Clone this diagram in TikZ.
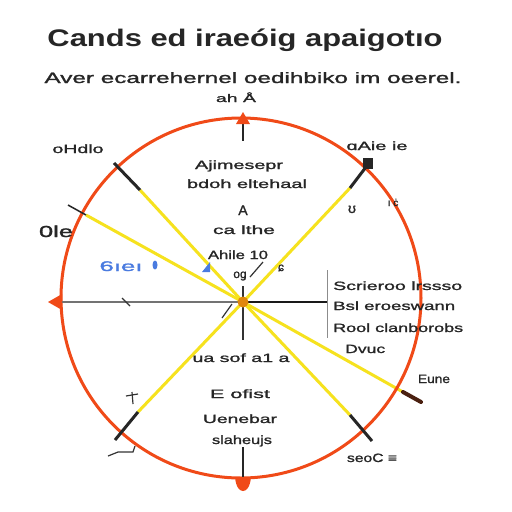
\documentclass[tikz,border=0pt]{standalone}
\usepackage{fontspec}
\usepackage{graphicx}
\setmainfont{Liberation Sans}
\newfontfamily\medfont[FakeBold=1.2]{Liberation Sans}
\definecolor{ringred}{HTML}{F04A18}
\definecolor{raycol}{HTML}{F6E21E}
\definecolor{hubcol}{HTML}{E0870F}
\definecolor{txt}{HTML}{262626}
\definecolor{bluet}{HTML}{4A7BE0}
\definecolor{stubbrown}{HTML}{4A2010}
\newcommand{\fw}[2]{\resizebox{#1}{\height}{#2}}
\begin{document}
\begin{tikzpicture}[x=1pt,y=-1pt,
  rayline/.style={draw=raycol,line width=3pt},
  stub/.style={draw=black!85,line width=3pt},
  thin/.style={draw=black!80,line width=1.2pt},
  lbl/.style={inner sep=0pt,anchor=base,text=txt,font=\medfont\fontsize{12}{12}\selectfont},
  blbl/.style={lbl,text=bluet},
  marker/.style={fill=ringred,draw=none}]
\useasboundingbox (0,0) rectangle (512,512);
\fill[white] (0,0) rectangle (512,512);

% --- coordinates
\coordinate (hub) at (243,302);
\coordinate (c) at (241,298);
\coordinate (r1) at (86,215);   \coordinate (s1) at (68,205);
\coordinate (r2) at (140,190);  \coordinate (s2) at (114,163);
\coordinate (r3) at (350,188);  \coordinate (s3) at (366,167);
\coordinate (r4) at (403,392);  \coordinate (s4) at (421,402);
\coordinate (r5) at (350,415);  \coordinate (s5) at (372,441);
\coordinate (r6) at (138,412);  \coordinate (s6) at (115,440);
\coordinate (left) at (60,302);
\coordinate (right) at (327,302);
\coordinate (top) at (243,118);
\coordinate (topin) at (243,141);
\coordinate (bot) at (243,478);
\coordinate (botin) at (243,447);
\coordinate (barA) at (327,270);
\coordinate (barB) at (327,338);

% --- rays
\draw[rayline] (hub) -- (r1);
\draw[rayline] (hub) -- (r2);
\draw[rayline] (hub) -- (r3);
\draw[rayline] (hub) -- (r4);
\draw[rayline] (hub) -- (r5);
\draw[rayline] (hub) -- (r6);

% --- ring
\draw[ringred,line width=3pt] (c) circle (180);

% --- horizontal axis
\draw[black!55,line width=2pt] (left) -- (hub);
\draw[black!90,line width=2.5pt] (hub) -- (right);
\draw[black!45,line width=1pt] (barA) -- (barB);

% --- stubs
\draw[stub,line width=1.5pt] (r1) -- (s1);
\draw[stub] (r2) -- (s2);
\draw[stub] (r3) -- (s3);
\draw[draw=stubbrown,line width=4pt,line cap=round] (r4) -- (s4);
\draw[stub] (r5) -- (s5);
\draw[stub] (r6) -- (s6);
\draw[stub,line width=2.5pt] (top) -- (topin);
\draw[stub,line width=2.5pt] (bot) -- (botin);
\draw[thin] (243,286) -- (243,340);

% --- markers
\fill[marker] (236,124) -- (243,112) -- (250,124) -- cycle;
\fill[marker] (48,302) -- (62,294) -- (62,310) -- cycle;
\fill[marker] (235,477) .. controls (236,488) and (240,491) .. (243,491) .. controls (246,491) and (250,488) .. (251,477) -- cycle;
\fill[hubcol] (hub) circle (5.5);

% --- small glyph marks
\draw[thin] (250,277) -- (263,262);
\draw[thin] (222,318) -- (232,304);
\fill[bluet] (202,272) -- (210,262) -- (210,272) -- cycle;
\fill[bluet] (155,265) ellipse (2.5 and 4.5);
\fill[black!85] (363,158) rectangle (373,169);
\draw[thin] (132,392) -- (133,404);
\draw[thin] (126,396) -- (138,394);
\draw[thin] (108,456) -- (118,452) -- (133,452) -- (135,446);
\draw[thin] (122,298) -- (130,306);

% --- texts
\node[lbl,font=\fontsize{24}{24}\selectfont\bfseries] (title) at (245,46) {\fw{395pt}{Cands ed iraeóig apaigotıo}};
\node[lbl,font=\medfont\fontsize{15}{15}\selectfont] (sub) at (253,83) {\fw{417pt}{Aver ecarrehernel oedihbiko im oeerel.}};
\node[lbl,font=\medfont\fontsize{11}{11}\selectfont] (ah) at (236,102) {\fw{40pt}{ah Å}};

\node[lbl] (la) at (78,153) {\fw{51pt}{oHdlo}};
\node[lbl,font=\medfont\fontsize{16}{16}\selectfont] (lb) at (56,237) {\fw{34pt}{0le}};
\node[blbl,font=\medfont\fontsize{14}{14}\selectfont] (lc) at (121,271) {\fw{43pt}{6ıeı}};

\node[lbl] (ld) at (239,169) {\fw{88pt}{Ajimesepr}};
\node[lbl] (le) at (247,188) {\fw{120pt}{bdoh eltehaal}};
\node[lbl,font=\medfont\fontsize{14}{14}\selectfont] (lf) at (243,215) {A};
\node[lbl] (lg) at (244,234) {\fw{62pt}{ca lthe}};
\node[lbl] (lh) at (238,259) {\fw{60pt}{Ahile 10}};
\node[lbl] (li) at (240,278) {og};
\node[lbl] (lj) at (281,271) {ɕ};

\node[lbl] (lk) at (377,150) {\fw{61pt}{ɑAie ie}};
\node[lbl,font=\medfont\fontsize{14}{14}\selectfont] (ll) at (352,213) {ʊ};
\node[lbl,font=\medfont\fontsize{10}{10}\selectfont] (lm) at (393,206) {ı ċ};

\node[lbl,anchor=base west] (p1) at (333,290) {\fw{129pt}{Scrieroo lrssso}};
\node[lbl,anchor=base west] (p2) at (333,310) {\fw{122pt}{Bsl eroeswann}};
\node[lbl,anchor=base west] (p3) at (333,332) {\fw{130pt}{Rool clanborobs}};
\node[lbl,anchor=base west] (p4) at (345,353) {\fw{40pt}{Dvuc}};

\node[lbl] (ln) at (434,383) {\fw{32pt}{Eune}};
\node[lbl] (lo) at (241,362) {\fw{97pt}{ua sof a1 a}};
\node[lbl] (lp) at (240,398) {\fw{60pt}{E ofist}};
\node[lbl] (lq) at (240,423) {\fw{74pt}{Uenebar}};
\node[lbl] (lr) at (242,444) {\fw{60pt}{slaheujs}};
\node[lbl] (ls) at (372,462) {\fw{50pt}{seoC ≡}};
\end{tikzpicture}
\end{document}
